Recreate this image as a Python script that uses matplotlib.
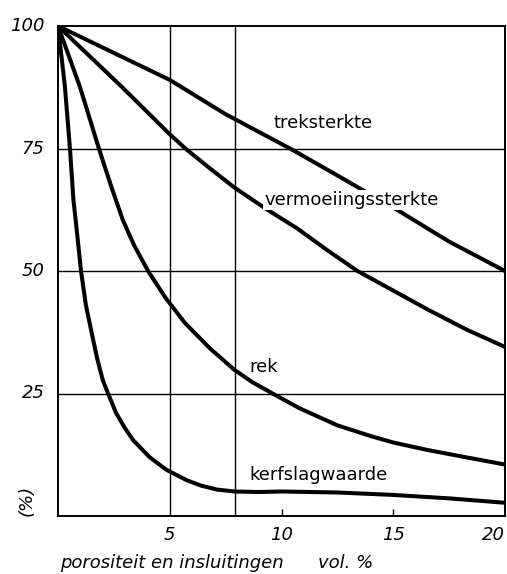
import matplotlib
matplotlib.use('Agg')
import matplotlib.pyplot as plt

# waarden (x = vol. %, y = %)
trek_x = [0, 2.5, 5, 7.5, 10.5, 12.5, 15.2, 17.5, 20]
trek_y = [100, 94.5, 89, 82, 74.7, 69.5, 62.4, 56, 50]

verm_x = [0, 2.85, 5.0, 5.7, 6.7, 7.9, 9.3, 10.7, 12.0, 13.4, 15.0, 16.6, 18.3, 20]
verm_y = [100, 87.6, 77.9, 75, 71.3, 67, 62.7, 58.7, 54.4, 50, 46, 42, 38, 34.5]

rek_x = [0, 0.98, 1.85, 2.4, 2.9, 3.4, 4.03, 4.8, 5.68, 6.8, 7.9, 8.7, 9.6, 10.8,
         12.5, 14.0, 15.0, 16.5, 18.0, 20]
rek_y = [100, 87.6, 74.7, 67.0, 60.4, 55.3, 50, 44.6, 39.4, 34.2, 29.8, 27.3, 25, 22,
         18.5, 16.3, 15, 13.5, 12.2, 10.5]

kerf_x = [0, 0.15, 0.31, 0.54, 0.69, 0.79, 1.03, 1.25, 1.51, 1.75, 2.0, 2.24, 2.6, 3.0,
          3.36, 4.1, 4.86, 5.76, 6.4, 7.1, 7.9, 9.0, 10, 12.5, 15, 17.5, 20]
kerf_y = [100, 94, 87.6, 74.7, 64.5, 60.4, 50, 43, 37.3, 32.2, 27.8, 25, 21, 17.9,
          15.5, 12.0, 9.4, 7.3, 6.2, 5.4, 5.0, 4.9, 5.0, 4.8, 4.3, 3.6, 2.7]

y_ticks = [25, 50, 75, 100]
x_ticks = [5, 10, 15, 20]
grid_y = [25, 50, 75]
grid_x = [5, 7.9]

labels = ['treksterkte', 'vermoeiingssterkte', 'rek', 'kerfslagwaarde']
label_pos = [(9.65, 80.3), (9.25, 64.5), (8.55, 30.4), (8.55, 8.4)]

fig = plt.figure(figsize=(5.07, 5.74), dpi=100)
ax = fig.add_axes([58/507, 58/574, 447/507, 490/574])

for g in grid_y:
    ax.axhline(g, color='black', lw=1.0, zorder=1)
for g in grid_x:
    ax.axvline(g, color='black', lw=1.0, zorder=1)

for xs, ys in [(trek_x, trek_y), (verm_x, verm_y), (rek_x, rek_y), (kerf_x, kerf_y)]:
    ax.plot(xs, ys, color='black', lw=2.9, solid_joinstyle='round',
            solid_capstyle='butt', zorder=3)

for txt, (lx, ly) in zip(labels, label_pos):
    ax.text(lx, ly, txt, fontsize=13, va='center', ha='left', zorder=4,
            bbox=dict(facecolor='white', edgecolor='none', pad=1.0))

ax.set_xlim(0, 20)
ax.set_ylim(0, 100)
ax.set_xticks([10, 15])
ax.set_xticklabels([])
ax.tick_params(axis='x', direction='in', length=5, width=1)
ax.set_yticks([])
for s in ax.spines.values():
    s.set_linewidth(1.4)

# tick labels als losse tekst (cursief)
for t in y_ticks:
    ax.text(-0.6, t, str(t), fontsize=13, style='italic', ha='right', va='center')
for t in x_ticks:
    ax.text(t, -2.0, str(t), fontsize=13, style='italic', ha='center' if t < 20 else 'right', va='top')

fig.text(27/507, 1 - 500/574, '(%)', fontsize=13, style='italic', rotation=90, ha='center', va='center')
fig.text(60/507, 1 - 563/574, 'porositeit en insluitingen', fontsize=13, style='italic', ha='left', va='center')
fig.text(318/507, 1 - 563/574, 'vol. %', fontsize=13, style='italic', ha='left', va='center')

fig.savefig('out.png', dpi=100)
